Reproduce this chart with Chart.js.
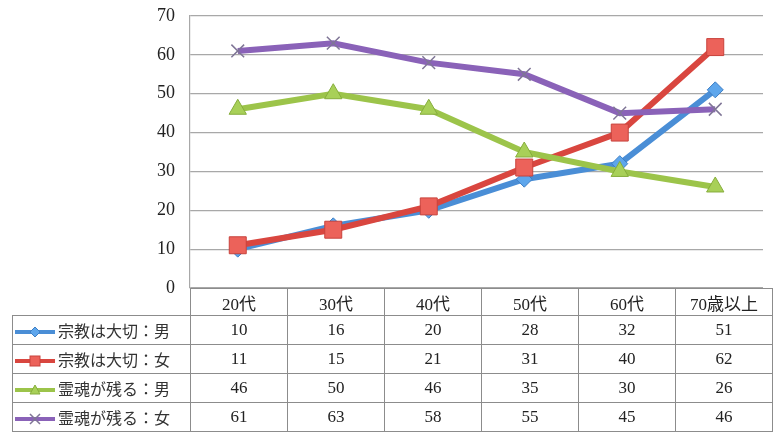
<!DOCTYPE html>
<html>
<head>
<meta charset="utf-8">
<script src="https://cdn.jsdelivr.net/npm/chart.js@4"></script>
<style>
  body { margin: 0; background: #fff; }
  #wrap { position: relative; width: 776px; height: 436px; overflow: hidden; }
  #chart { position: absolute; left: 0; top: 0; }
  #tbl {
    position: absolute; left: 12px; top: 288px;
    border-collapse: collapse; table-layout: fixed;
    font-family: "Liberation Serif", "Noto Sans CJK JP", serif;
    font-size: 17px; color: #222;
  }
  #tbl td { border: 1px solid #8c8c8c; text-align: center; padding: 0; height: 28px; }
  #tbl tr.head td { height: 26px; }
  #tbl td.blank { border: none; border-right: 1px solid #8c8c8c; }
  #tbl td.name { text-align: left; white-space: nowrap; font-family: "Noto Sans CJK JP", sans-serif; font-size: 16px; color: #333; }
  #tbl td.name svg { vertical-align: middle; margin-right: 1px; }
</style>
</head>
<body>
<div id="wrap">
  <canvas id="chart" width="776" height="436"></canvas>
  <table id="tbl"></table>
</div>
<script>
// カテゴリと系列
const categories = ["20代", "30代", "40代", "50代", "60代", "70歳以上"];
const seriesNames = ["宗教は大切：男", "宗教は大切：女", "霊魂が残る：男", "霊魂が残る：女"];
const religionMale = [10, 16, 20, 28, 32, 51];
const religionFemale = [11, 15, 21, 31, 40, 62];
const soulMale = [46, 50, 46, 35, 30, 26];
const soulFemale = [61, 63, 58, 55, 45, 46];
const yTicks = [0, 10, 20, 30, 40, 50, 60, 70];

const values = [religionMale, religionFemale, soulMale, soulFemale];
const lineColors = ["#4a8ed6", "#d9463f", "#9cc44a", "#8a62b8"];
const markFill = ["#5ea6ec", "#ec625a", "#a8d058", "#8a62b8"];
const markBorder = ["#3f7fc4", "#c8433c", "#86ad3c", "#7f7596"];
const markStyle = ["rectRot", "rect", "triangle", "crossRot"];
const markRadius = [8, 12, 10, 9];

const datasets = values.map((v, i) => ({
  label: seriesNames[i],
  data: v,
  borderColor: lineColors[i],
  borderWidth: 6,
  tension: 0,
  pointStyle: markStyle[i],
  pointRadius: markRadius[i],
  pointBackgroundColor: markFill[i],
  pointBorderColor: markBorder[i],
  pointBorderWidth: markStyle[i] === "crossRot" ? 1.5 : 1,
  order: 4 - i
}));

new Chart(document.getElementById("chart"), {
  type: "line",
  data: { labels: categories, datasets },
  options: {
    responsive: false,
    animation: false,
    layout: { padding: { left: 0, right: 4, top: 16, bottom: 148 } },
    plugins: { legend: { display: false }, tooltip: { enabled: false } },
    scales: {
      x: { display: false, offset: true },
      y: {
        min: 0, max: 70,
        afterFit: s => { s.width = 190; s.paddingTop = 0; s.paddingBottom = 0; },
        afterBuildTicks: s => { s.ticks = yTicks.map(v => ({ value: v })); },
        ticks: {
          padding: 15,
          color: "#222",
          font: { family: "'Liberation Serif', serif", size: 18 }
        },
        grid: { color: "#a8a8a8", lineWidth: 1.2, drawTicks: false },
        border: { display: true, color: "#a8a8a8", width: 1.2 }
      }
    }
  }
});

// データテーブル
function icon(i) {
  const y = 10, cx = 22;
  let m = "";
  if (markStyle[i] === "rectRot") m = `<polygon points="${cx},${y-5} ${cx+5},${y} ${cx},${y+5} ${cx-5},${y}" fill="${markFill[i]}" stroke="${markBorder[i]}"/>`;
  if (markStyle[i] === "rect") m = `<rect x="${cx-5}" y="${y-5}" width="10" height="10" fill="${markFill[i]}" stroke="${markBorder[i]}"/>`;
  if (markStyle[i] === "triangle") m = `<polygon points="${cx},${y-5} ${cx+5},${y+4} ${cx-5},${y+4}" fill="${markFill[i]}" stroke="${markBorder[i]}"/>`;
  if (markStyle[i] === "crossRot") m = `<path d="M${cx-5},${y-5}L${cx+5},${y+5}M${cx+5},${y-5}L${cx-5},${y+5}" stroke="${markBorder[i]}" stroke-width="1.5"/>`;
  return `<svg width="44" height="20"><line x1="2" y1="${y}" x2="42" y2="${y}" stroke="${lineColors[i]}" stroke-width="4"/>${m}</svg>`;
}

const tbl = document.getElementById("tbl");
let html = '<colgroup><col style="width:178px">' + categories.map(() => '<col style="width:97px">').join("") + '</colgroup>';
html += '<tr class="head"><td class="blank"></td>' + categories.map(c => `<td>${c}</td>`).join("") + '</tr>';
values.forEach((v, i) => {
  html += `<tr><td class="name">${icon(i)}${seriesNames[i]}</td>` + v.map(n => `<td>${n}</td>`).join("") + '</tr>';
});
tbl.innerHTML = html;
</script>
</body>
</html>
